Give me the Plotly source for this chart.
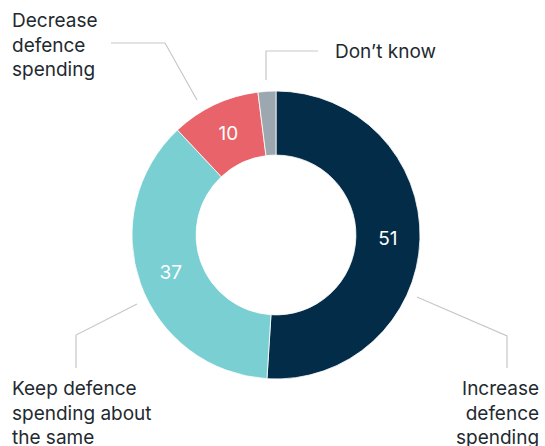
import plotly.graph_objects as go

# Survey shares (%)
categories = ["Increase defence spending", "Keep defence spending about the same",
              "Decrease defence spending", "Don\u2019t know"]
values = [51, 37, 10, 2]
value_labels = ["51", "37", "10", ""]
colors = ["#032c48", "#7acfd3", "#e8646a", "#9ca7af"]

W, H = 545, 446
cx, cy, R = 276, 235, 144
TEXT = "#1f2a30"
LINE = "#c3c8cc"
FONT = "Inter, Roboto, sans-serif"


def px(x):
    return x / W


def py(y):
    return 1 - y / H


fig = go.Figure(go.Pie(
    labels=categories,
    values=values,
    text=value_labels,
    texttemplate="%{text}",
    textposition="inside",
    insidetextorientation="horizontal",
    textfont=dict(color="white", size=19, family=FONT),
    marker=dict(colors=colors, line=dict(color="white", width=0.8)),
    hole=0.555,
    sort=False,
    direction="clockwise",
    rotation=0,
    showlegend=False,
    hoverinfo="label+value",
    domain=dict(x=[px(cx - R), px(cx + R)], y=[py(cy + R), py(cy - R)]),
))

# Callout leader lines (pixel paths converted to paper coordinates)
leaders = [
    [(197, 100), (165, 43), (111, 43)],
    [(266, 80), (266, 51), (318, 51)],
    [(137, 304), (76, 335), (76, 368)],
    [(417, 297), (507, 336), (507, 368)],
]
shapes = []
for pts in leaders:
    d = "M " + " L ".join(f"{px(x):.5f},{py(y):.5f}" for x, y in pts)
    shapes.append(dict(type="path", path=d, xref="paper", yref="paper",
                       line=dict(color=LINE, width=1.2)))

callouts = [
    ("Decrease<br>defence<br>spending", 10, 45, "left"),
    ("Don\u2019t know", 333, 51, "left"),
    ("Keep defence<br>spending about<br>the same", 10, 413, "left"),
    ("Increase<br>defence<br>spending", 541, 413, "right"),
]
annotations = [
    dict(text=t, x=px(x), y=py(y), xref="paper", yref="paper",
         xanchor=a, yanchor="middle", align=a, showarrow=False,
         font=dict(size=19, color=TEXT, family=FONT))
    for t, x, y, a in callouts
]

fig.update_layout(
    width=W, height=H,
    margin=dict(l=0, r=0, t=0, b=0),
    paper_bgcolor="white", plot_bgcolor="white",
    shapes=shapes, annotations=annotations,
)

fig.write_html("out.html")
